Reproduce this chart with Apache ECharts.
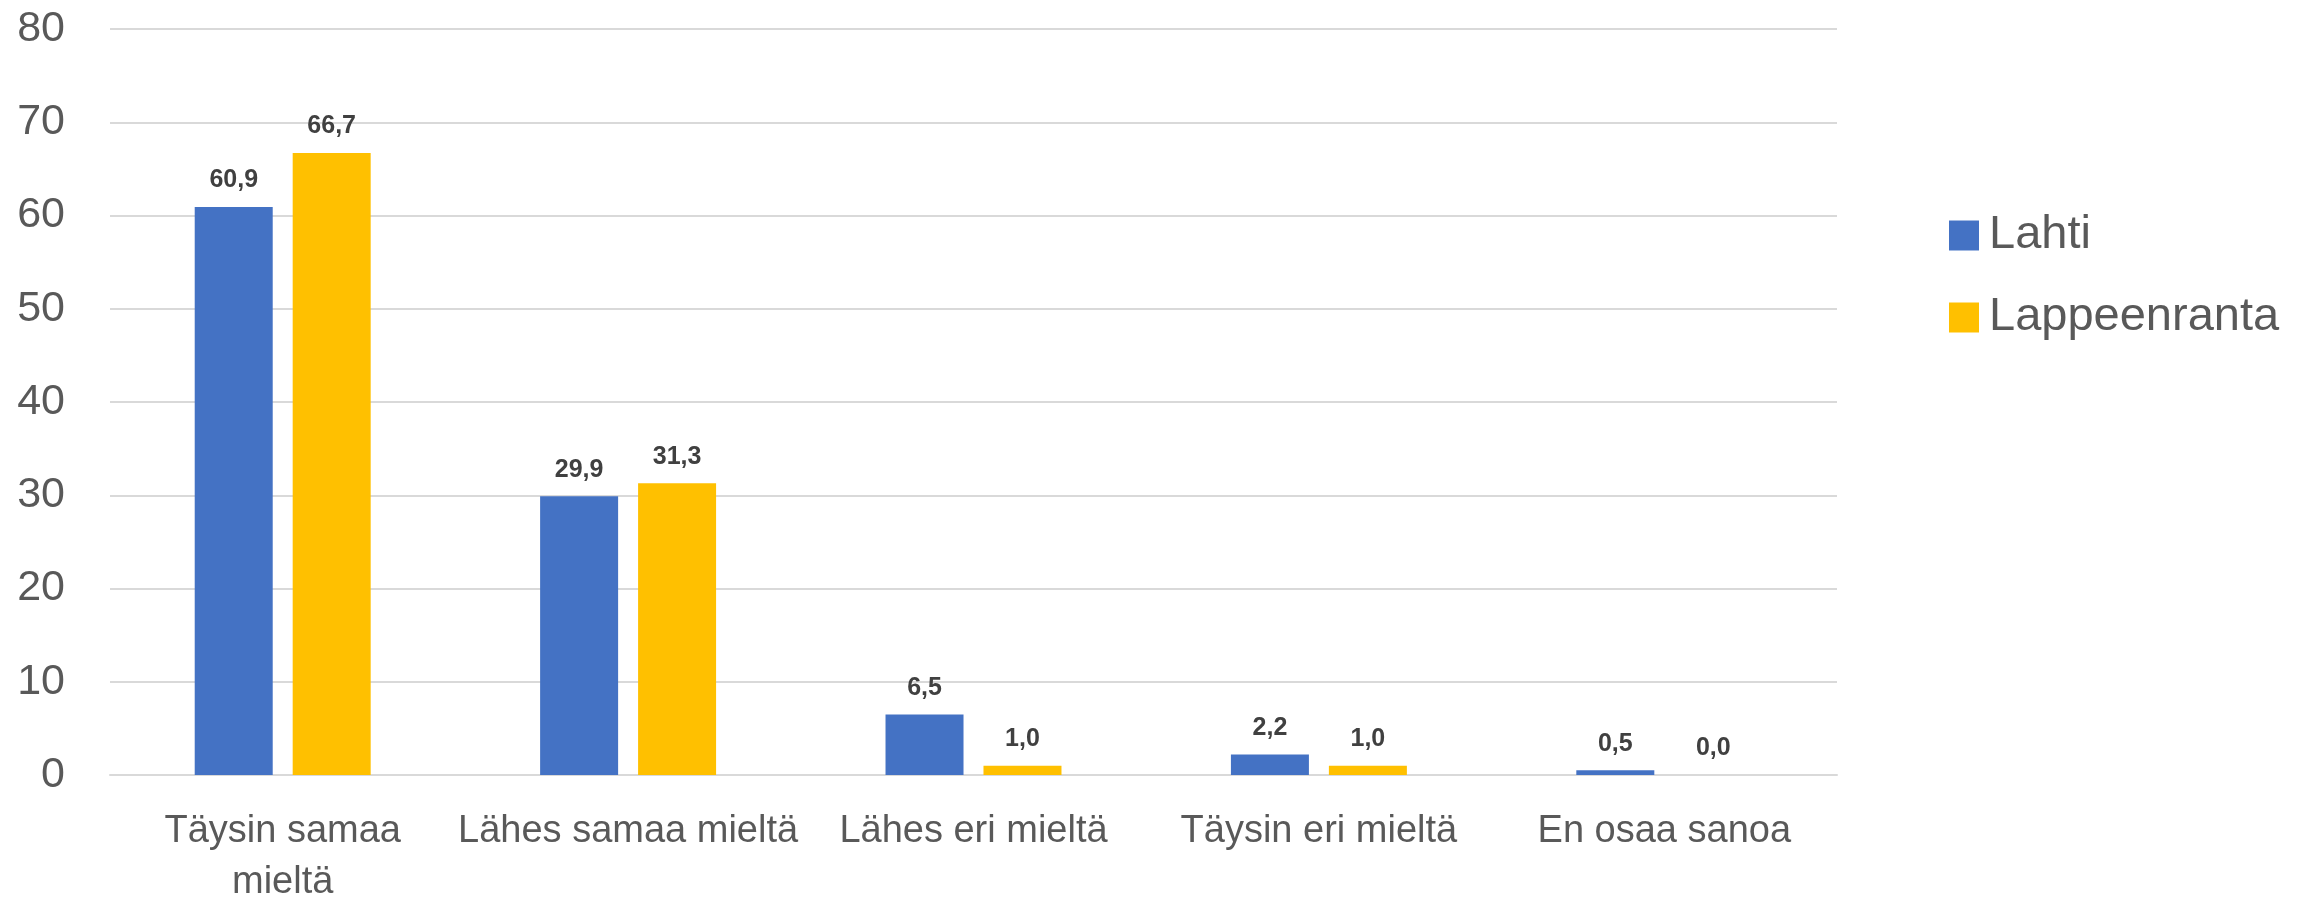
<!DOCTYPE html>
<html>
<head>
<meta charset="utf-8">
<script src="https://cdn.jsdelivr.net/npm/echarts@6/dist/echarts.min.js"></script>
<style>html,body{margin:0;padding:0;background:#fff}#c{width:2315px;height:900px}</style>
</head>
<body>
<div id="c"></div>
<script>
const categories = ["Täysin samaa mieltä", "Lähes samaa mieltä", "Lähes eri mieltä", "Täysin eri mieltä", "En osaa sanoa"];
const seriesNames = ["Lahti", "Lappeenranta"];
const lahti = [60.9, 29.9, 6.5, 2.2, 0.5];
const lappeenranta = [66.7, 31.3, 1.0, 1.0, 0.0];
const yTicks = { min: 0, max: 80, interval: 10 };

const FONT = "'Liberation Sans', Arial, sans-serif";
const X_FONT_SIZE = 38;
const measureCtx = document.createElement('canvas').getContext('2d');
measureCtx.font = X_FONT_SIZE + "px 'Liberation Sans'";
// wrap a category label at its last space when it is wider than the category slot
function wrapLabel(text) {
  if (measureCtx.measureText(text).width <= 346) return text;
  const i = text.lastIndexOf(' ');
  return i > 0 ? text.slice(0, i) + '\n' + text.slice(i + 1) : text;
}

const fmt = p => p.value.toFixed(1).replace('.', ',');
const labelStyle = {
  show: true, position: 'top', distance: 14, formatter: fmt,
  fontFamily: FONT, fontSize: 25, fontWeight: 'bold', color: '#404040'
};

const chart = echarts.init(document.getElementById('c'), null, { renderer: 'canvas' });
chart.setOption({
  animation: false,
  backgroundColor: '#ffffff',
  grid: { left: 110, right: 478, top: 29, bottom: 125, containLabel: false, outerBoundsMode: 'none' },
  legend: {
    orient: 'vertical', left: 1944, top: 207,
    itemWidth: 30, itemHeight: 30, itemGap: 35,
    icon: 'rect',
    textStyle: { fontFamily: FONT, fontSize: 47, color: '#595959', lineHeight: 30, padding: [0, 0, 0, 5] },
    data: seriesNames
  },
  xAxis: {
    type: 'category', data: categories,
    axisLine: { show: true, lineStyle: { color: '#d9d9d9', width: 2 } },
    axisTick: { show: false },
    axisLabel: {
      interval: 0, margin: 31, fontFamily: FONT, fontSize: X_FONT_SIZE, color: '#595959',
      lineHeight: 51, formatter: wrapLabel
    }
  },
  yAxis: {
    type: 'value', min: yTicks.min, max: yTicks.max, interval: yTicks.interval,
    axisLine: { show: false }, axisTick: { show: false },
    splitLine: { lineStyle: { color: '#d9d9d9', width: 2 } },
    axisLabel: { margin: 45, fontFamily: FONT, fontSize: 43, color: '#595959' }
  },
  series: [
    { name: seriesNames[0], type: 'bar', data: lahti, barWidth: 78, barGap: '25.6%',
      itemStyle: { color: '#4472C4' }, label: labelStyle },
    { name: seriesNames[1], type: 'bar', data: lappeenranta, barWidth: 78, barGap: '25.6%',
      itemStyle: { color: '#FFC000' }, label: labelStyle }
  ]
});
</script>
</body>
</html>
